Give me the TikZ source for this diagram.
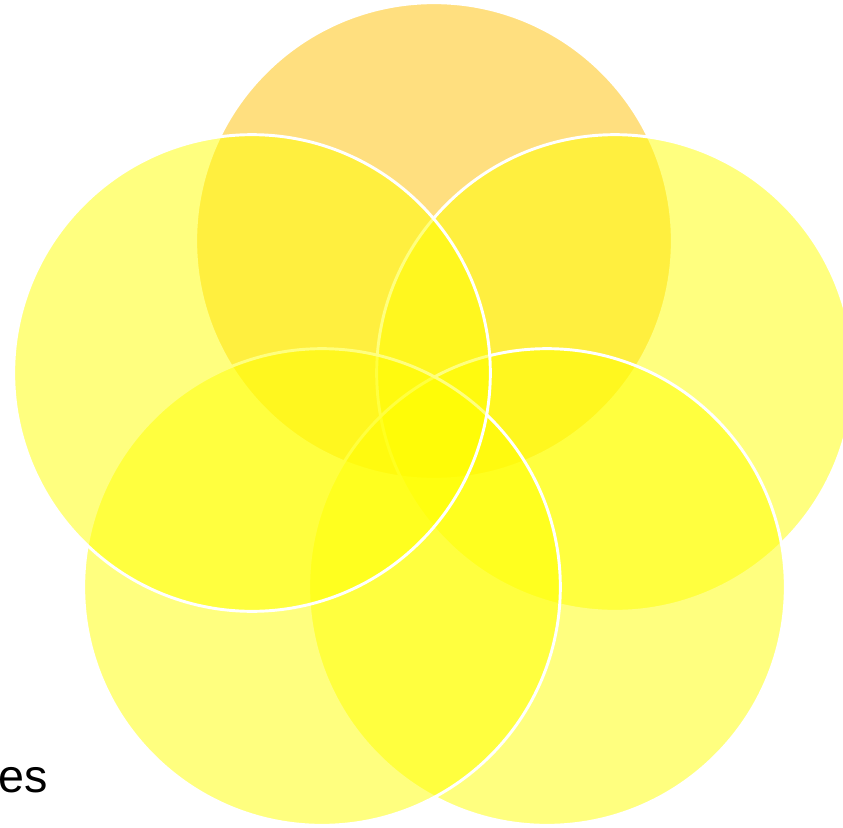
\documentclass[tikz,border=0pt]{standalone}
\usepackage{fontspec}
\setmainfont{Liberation Sans}
\definecolor{petalorange}{RGB}{255,192,0}
\definecolor{petalyellow}{RGB}{255,255,0}
\begin{document}
\begin{tikzpicture}[x=0.75pt,y=-0.75pt]
\tikzset{
  petal/.style={circle, inner sep=0pt, outer sep=0pt, minimum size=357.5pt,
    draw=white, line width=2.2pt, fill opacity=0.5, draw opacity=1},
}
\useasboundingbox (0,0) rectangle (843,828);
\node (top) [petal, fill=petalorange] at (434,241) {};
\node (rightup) [petal, fill=petalyellow] at (615,373) {};
\node (rightdown) [petal, fill=petalyellow] at (547,587) {};
\node (leftdown) [petal, fill=petalyellow] at (322,587) {};
\node (leftup) [petal, fill=petalyellow] at (252,373) {};
\node (lbl) [anchor=base west, inner sep=0pt, font=\fontsize{35pt}{42pt}\selectfont] at (-2,792) {es};
\end{tikzpicture}
\end{document}
